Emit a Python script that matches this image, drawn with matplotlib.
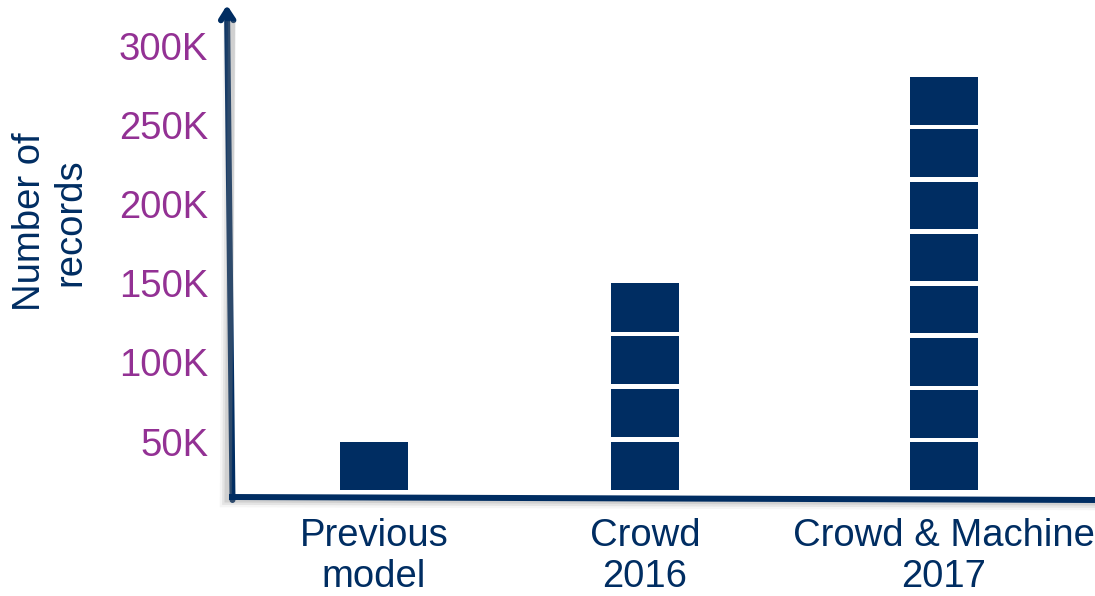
import matplotlib
matplotlib.use("Agg")
import matplotlib.pyplot as plt
from matplotlib.lines import Line2D

# ---- data ----
categories = ["Previous\nmodel", "Crowd\n2016", "Crowd & Machine\n2017"]
totals_k = [50, 150, 280]          # top of each stack (thousands of records)
block_counts = [1, 4, 8]           # number of stacked blocks in each column
base_k = 19.6                      # where the stacks start
ytick_values = [50, 100, 150, 200, 250, 300]
ytick_labels = ["50K", "100K", "150K", "200K", "250K", "300K"]

# ---- style / layout ----
W, H, DPI = 1095, 596, 100
NAVY = "#002D62"
PURPLE = "#933194"
FONT = "Liberation Sans"
FS = 27.5
plt.rcParams["font.family"] = [FONT, "DejaVu Sans"]
x_pos = [0, 1, 2.103]

fig = plt.figure(figsize=(W / DPI, H / DPI), dpi=DPI)
fig.patch.set_facecolor("white")
ax = fig.add_axes([232 / W, (H - 497) / H, (W - 232) / W, (497 - 5) / H])
ax.set_xlim(-0.524, 2.661)
ax.set_ylim(15.1, 325.6)
ax.patch.set_alpha(0)

gap_k = 2.8
bar_w = 0.251
for xi, tot, n in zip(x_pos, totals_k, block_counts):
    pitch = (tot - base_k + gap_k) / n
    for i in range(n):
        ax.bar(xi, pitch - gap_k, bottom=base_k + i * pitch, width=bar_w,
               color=NAVY, edgecolor="none", zorder=3)

for s in ax.spines.values():
    s.set_visible(False)

ax.set_yticks(ytick_values)
ax.set_yticklabels(ytick_labels)
ax.tick_params(axis="y", length=0, pad=17, labelsize=FS, labelcolor=PURPLE)
ax.set_xticks(x_pos)
ax.set_xticklabels(categories, linespacing=1.2)
ax.tick_params(axis="x", length=0, pad=15, labelsize=FS, labelcolor=NAVY)

fig.text(50 / W, 1 - 222 / H, "Number of\nrecords", rotation=90, ha="center",
         va="center", color=NAVY, fontsize=FS, multialignment="center",
         linespacing=1.15)

# axis lines with soft shadow
def fp(px, py):
    return px / W, 1 - py / H

for off, a, lw in [((-3, 4), 0.08, 9), ((-2, 3), 0.14, 7), ((-1, 2), 0.2, 5)]:
    xs = [232.5 + off[0], 229 + off[0], 1095]
    ys = [5 + 18 + off[1], 497 + off[1], 500 + off[1]]
    fig.add_artist(Line2D([xx / W for xx in xs], [1 - yy / H for yy in ys],
                          color="gray", alpha=a, lw=lw, solid_joinstyle="miter",
                          transform=fig.transFigure))

fig.add_artist(Line2D([229 / W, 1095 / W], [1 - 497 / H, 1 - 500 / H],
                      color=NAVY, lw=4.3, solid_capstyle="butt",
                      transform=fig.transFigure))
ax.annotate("", xy=fp(227, 5), xycoords="figure fraction",
            xytext=fp(232.5, 500), textcoords="figure fraction",
            arrowprops=dict(arrowstyle="->,head_length=0.7,head_width=0.45",
                            color=NAVY, lw=4.3, shrinkA=0, shrinkB=0))

fig.savefig("out.png", dpi=DPI, facecolor="white")
